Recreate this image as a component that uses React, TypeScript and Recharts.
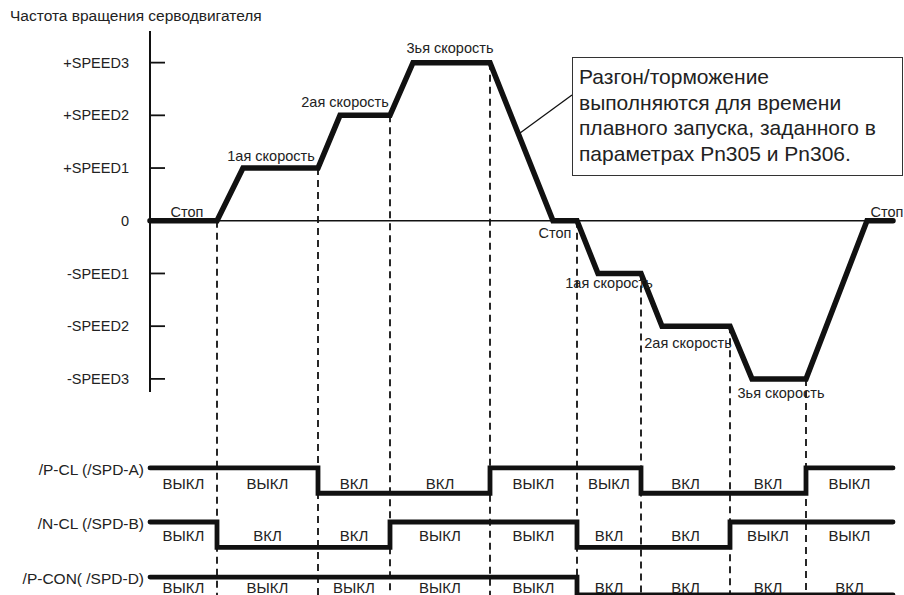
import React from 'react';
import { ComposedChart, Line, Scatter, XAxis, YAxis, ReferenceLine } from 'recharts';

const FONT = "'Liberation Sans', Arial, Helvetica, sans-serif";

// ---- data ----
// switching instants (time units)
const boundaries = [0, 67, 168, 240, 340, 427, 491, 580, 656, 743];

// servo motor speed profile
const speedTimes = [0, 67, 93, 168, 190, 240, 263, 340, 403, 427, 448, 491, 512, 580, 602, 656, 717, 743];
const speedLevels = [0, 0, 1, 1, 2, 2, 3, 3, 0, 0, -1, -1, -2, -2, -3, -3, 0, 0];

const speedTicks = [3, 2, 1, 0, -1, -2, -3];
const speedTickLabels = ['+SPEED3', '+SPEED2', '+SPEED1', '0', '-SPEED1', '-SPEED2', '-SPEED3'];

const signalNames = ['/P-CL (/SPD-A)', '/N-CL (/SPD-B)', '/P-CON( /SPD-D)'];
const pclStates = ['ВЫКЛ', 'ВЫКЛ', 'ВКЛ', 'ВКЛ', 'ВЫКЛ', 'ВЫКЛ', 'ВКЛ', 'ВКЛ', 'ВЫКЛ'];
const nclStates = ['ВЫКЛ', 'ВКЛ', 'ВКЛ', 'ВЫКЛ', 'ВЫКЛ', 'ВКЛ', 'ВКЛ', 'ВЫКЛ', 'ВЫКЛ'];
const pconStates = ['ВЫКЛ', 'ВЫКЛ', 'ВЫКЛ', 'ВЫКЛ', 'ВЫКЛ', 'ВКЛ', 'ВКЛ', 'ВКЛ', 'ВКЛ'];

const annotationTexts = ['Стоп', '1ая скорость', '2ая скорость', '3ья скорость', 'Стоп', '1ая скорость', '2ая скорость', '3ья скорость', 'Стоп'];
const annotationTimes = [37, 121, 195, 300, 405, 459, 538, 631, 737];
const annotationLevels = [0.08, 1.14, 2.16, 3.18, -0.33, -1.28, -2.41, -3.36, 0.08];

const title = 'Частота вращения серводвигателя';
const noteLines = ['Разгон/торможение', 'выполняются для времени', 'плавного запуска, заданного в', 'параметрах Pn305 и Pn306.'];

// ---- layout (not data) ----
const Y_MIN = -7.1;
const Y_MAX = 3.6;
const rowLevels = [-4.69, -5.715, -6.76];
const rowAmp = 0.48;
const labelDrops = [0.3, 0.27, 0.2];
const ON = 'ВКЛ';

const speedData = speedTimes.map((t, i) => ({ t, v: speedLevels[i] }));

const allStates = [pclStates, nclStates, pconStates];
const signalData = allStates.map((states, r) => {
  const lvl = (s: string) => (s === ON ? Math.max(rowLevels[r] - rowAmp, Y_MIN) : rowLevels[r]);
  const pts = states.map((s, i) => ({ t: boundaries[i], v: lvl(s) }));
  pts.push({ t: boundaries[boundaries.length - 1], v: lvl(states[states.length - 1]) });
  return pts;
});

const stateLabelData = allStates.flatMap((states, r) =>
  states.map((s, i) => ({ t: (boundaries[i] + boundaries[i + 1]) / 2, v: rowLevels[r] - labelDrops[r], text: s }))
);

const annotationData = annotationTexts.map((text, i) => ({ t: annotationTimes[i], v: annotationLevels[i], text }));

const dashData = boundaries.slice(1, -1).map((t) => ({ t, v: speedLevels[speedTimes.indexOf(t)] }));

const YTick = (props: any) => {
  const { x, y, payload } = props;
  const v = payload.value;
  const row = rowLevels.indexOf(v);
  if (row >= 0) {
    return (
      <text x={x - 6} y={y} dy={7} textAnchor="end" fontSize={15.5} fontFamily={FONT} fill="#222">
        {signalNames[row]}
      </text>
    );
  }
  const i = speedTicks.indexOf(v);
  return (
    <g>
      <line x1={x} x2={x + 15} y1={y} y2={y} stroke="#111" strokeWidth={1.8} />
      <text x={x - 21} y={y} dy="0.35em" textAnchor="end" fontSize={14.5} fontFamily={FONT} fill="#222">
        {speedTickLabels[i]}
      </text>
    </g>
  );
};

const AnnotationShape = (p: any) => (
  <text x={p.cx} y={p.cy} textAnchor="middle" fontSize={14.5} fontFamily={FONT} fill="#222">
    {p.payload.text}
  </text>
);

const StateShape = (p: any) => (
  <text x={p.cx} y={p.cy} dy="0.35em" textAnchor="middle" fontSize={15} fontFamily={FONT} fill="#222">
    {p.payload.text}
  </text>
);

export default function App() {
  return (
    <div style={{ position: 'absolute', left: 0, top: 0, width: 904, height: 595, background: '#fff', fontFamily: FONT, overflow: 'hidden' }}>
      <ComposedChart width={904} height={595} margin={{ top: 31, right: 11, bottom: 0, left: 0 }}>
        <XAxis type="number" dataKey="t" domain={[0, 743]} hide />
        <YAxis
          type="number"
          dataKey="v"
          domain={[Y_MIN, Y_MAX]}
          ticks={[...speedTicks, ...rowLevels]}
          interval={0}
          width={150}
          axisLine={false}
          tickLine={false}
          tickSize={0}
          tickMargin={0}
          tick={YTick}
        />
        {dashData.map((d, i) => (
          <ReferenceLine
            key={'d' + i}
            segment={[{ x: d.t, y: d.v }, { x: d.t, y: Y_MIN }]}
            stroke="#111"
            strokeWidth={1.8}
            strokeDasharray="7 5"
          />
        ))}
        <ReferenceLine y={0} stroke="#111" strokeWidth={1.5} />
        <ReferenceLine segment={[{ x: 0, y: Y_MAX }, { x: 0, y: -3.25 }]} stroke="#111" strokeWidth={2} />
        <ReferenceLine segment={[{ x: 370, y: 1.665 }, { x: 422, y: 2.386 }]} stroke="#111" strokeWidth={1.3} />
        <Line
          data={speedData}
          dataKey="v"
          type="linear"
          stroke="#111"
          strokeWidth={5.5}
          dot={false}
          activeDot={false}
          strokeLinecap="round"
          isAnimationActive={false}
        />
        {signalData.map((d, r) => (
          <Line
            key={'s' + r}
            data={d}
            dataKey="v"
            type="stepAfter"
            stroke="#111"
            strokeWidth={4.8}
            dot={false}
            activeDot={false}
            strokeLinecap="round"
            isAnimationActive={false}
          />
        ))}
        <Scatter data={annotationData} dataKey="v" shape={AnnotationShape} isAnimationActive={false} />
        <Scatter data={stateLabelData} dataKey="v" shape={StateShape} isAnimationActive={false} />
      </ComposedChart>
      <div style={{ position: 'absolute', left: 10, top: 8, fontSize: 15.5, lineHeight: 1, color: '#222', whiteSpace: 'nowrap' }}>
        {title}
      </div>
      <div
        style={{
          position: 'absolute',
          left: 572,
          top: 57,
          width: 331,
          height: 119,
          boxSizing: 'border-box',
          border: '1.5px solid #333',
          background: '#fff',
          padding: '6px 0 0 6px',
          fontSize: 21,
          lineHeight: '25.5px',
          color: '#222',
          whiteSpace: 'nowrap',
        }}
      >
        {noteLines.map((l, i) => (
          <div key={i}>{l}</div>
        ))}
      </div>
    </div>
  );
}
